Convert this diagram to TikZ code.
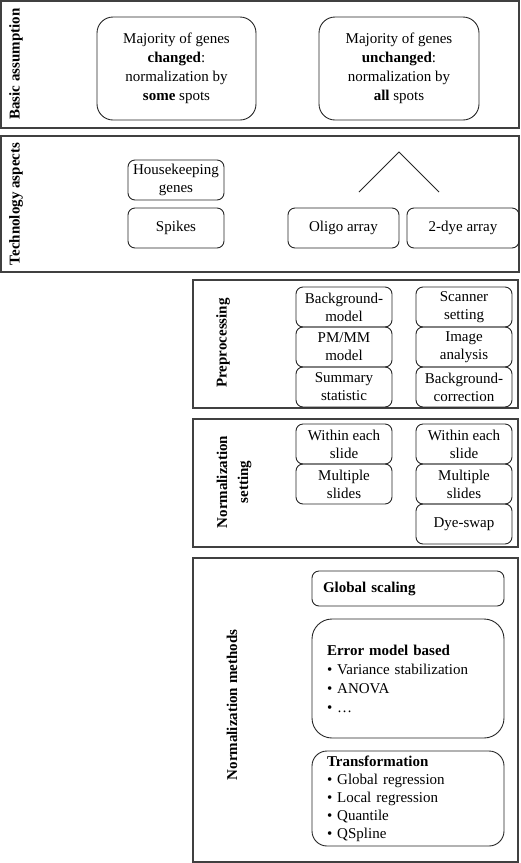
\documentclass[tikz,border=0pt]{standalone}
\usepackage{fontspec}
\setmainfont{Liberation Serif}

\tikzset{
  panel/.style={draw=black!75, line width=1.3pt, inner sep=0pt},
  sidelabel/.style={rotate=90, align=center, font=\fontsize{15}{21}\selectfont\bfseries},
  itembox/.style={draw=black!85, line width=0.9pt, rounded corners=7pt, inner sep=0pt,
    minimum width=96pt, minimum height=40pt, align=center, font=\fontsize{15}{18}\selectfont},
  bigbox/.style={itembox, rounded corners=16pt, minimum height=103pt, font=\fontsize{15}{19}\selectfont},
  listbox/.style={itembox, minimum width=192pt, text width=162pt, align=left, font=\fontsize{15}{19}\selectfont}
}

\begin{document}
\begin{tikzpicture}[x=1pt, y=-1pt]
  \useasboundingbox (0,0) rectangle (520,863);

  \node[panel, minimum width=518pt, minimum height=127pt] (basic) at (260,64.5) {};
  \node[panel, minimum width=518pt, minimum height=136pt] (tech) at (260,204) {};
  \node[panel, minimum width=325pt, minimum height=128pt] (prep) at (355.5,344) {};
  \node[panel, minimum width=325pt, minimum height=128pt] (nset) at (355.5,483) {};
  \node[panel, minimum width=325pt, minimum height=304pt] (nmeth) at (355.5,710) {};

  \node[sidelabel] (basiclbl) at (16,64) {Basic assumption};
  \node[sidelabel] (techlbl) at (16,204) {Technology aspects};
  \node[sidelabel] (preplbl) at (223,343) {Preprocessing};
  \node[sidelabel] (nsetlbl) at (234,482) {Normalization\\setting};
  \node[sidelabel] (nmethlbl) at (232,705) {Normalization methods};

  \node[bigbox, minimum width=159pt] (changed) at (176.5,68.5) {Majority of genes\\\textbf{changed}:\\normalization by\\\textbf{some} spots};
  \node[bigbox, minimum width=160pt] (unchanged) at (399,68.5) {Majority of genes\\\textbf{unchanged}:\\normalization by\\\textbf{all} spots};

  \node[itembox] (house) at (176,180) {Housekeeping\\genes};
  \node[itembox] (spikes) at (176,228) {Spikes};
  \node[itembox, minimum width=111pt] (oligo) at (343.5,228) {Oligo array};
  \node[itembox, minimum width=112pt] (twodye) at (463,228) {2-dye array};
  \coordinate (apex) at (399,152);
  \coordinate (legl) at (359,192);
  \coordinate (legr) at (439,192);
  \draw[black!85, line width=0.9pt] (legl) -- (apex) -- (legr);

  \node[itembox] (bgmodel) at (344,307) {Background-\\model};
  \node[itembox] (pmmm) at (344,347) {PM/MM\\model};
  \node[itembox] (summary) at (344,387) {Summary\\statistic};
  \node[itembox] (scanner) at (464,307) {Scanner\\setting};
  \node[itembox] (image) at (464,347) {Image\\analysis};
  \node[itembox] (bgcorr) at (464,387) {Background-\\correction};

  \node[itembox] (withinl) at (344,444) {Within each\\slide};
  \node[itembox] (multil) at (344,484) {Multiple\\slides};
  \node[itembox] (withinr) at (464,444) {Within each\\slide};
  \node[itembox] (multir) at (464,484) {Multiple\\slides};
  \node[itembox] (dyeswap) at (464,524) {Dye-swap};

  \node[listbox, text width=170pt, minimum height=35pt] (global) at (408,588.5) {\textbf{Global scaling}};
  \node[listbox, rounded corners=20pt, minimum height=119pt] (error) at (408,678.5) {\textbf{Error model based}\\\textbullet\ Variance stabilization\\\textbullet\ ANOVA\\\textbullet\ \dots};
  \node[listbox, rounded corners=15pt, minimum height=95pt, font=\fontsize{15}{18}\selectfont] (transf) at (408,798.5) {\textbf{Transformation}\\\textbullet\ Global regression\\\textbullet\ Local regression\\\textbullet\ Quantile\\\textbullet\ QSpline};
\end{tikzpicture}
\end{document}
